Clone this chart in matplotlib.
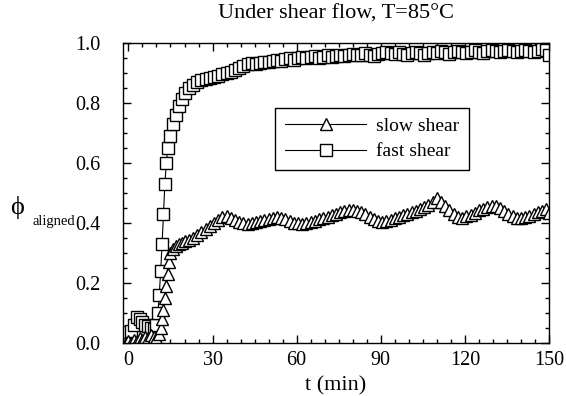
import matplotlib
matplotlib.use("Agg")
import matplotlib.pyplot as plt
from matplotlib.ticker import MultipleLocator, FormatStrFormatter

plt.rcParams['font.family'] = ['Liberation Serif', 'DejaVu Serif']

# fast shear (squares)
t_fast = [-2, -1, 0, 1, 2, 3, 4, 5, 6, 7,
          8, 9, 10, 10.5, 11, 11.5, 12, 12.5, 13, 13.5,
          14, 15, 16, 17, 18, 19, 20, 21.5, 23, 24.5,
          26, 27.5, 29,
          30.5, 32, 33.5, 35, 36.5, 38, 39.5, 41, 42.5, 44,
          45.5, 47, 48.5, 50, 51.5, 53, 54.5, 56, 57.5, 59,
          60.5, 62, 63.5, 65, 66.5, 68, 69.5, 71, 72.5, 74,
          75.5, 77, 78.5, 80, 81.5, 83, 84.5, 86, 87.5, 89,
          90.5, 92, 93.5, 95, 96.5, 98, 99.5, 101, 102.5, 104,
          105.5, 107, 108.5, 110, 111.5, 113, 114.5, 116, 117.5, 119,
          120.5, 122, 123.5, 125, 126.5, 128, 129.5, 131, 132.5, 134,
          135.5, 137, 138.5, 140, 141.5, 143, 144.5, 146, 147.5, 149,
          150]
phi_fast = [0.015, 0.025, 0.035, 0.04, 0.06, 0.085, 0.08, 0.07, 0.06, 0.055,
            0.05, 0.045, 0.06, 0.10, 0.16, 0.24, 0.33, 0.43, 0.53, 0.60,
            0.65, 0.69, 0.73, 0.76, 0.79, 0.815, 0.835, 0.85, 0.862, 0.87,
            0.876, 0.880, 0.884,
            0.888, 0.892, 0.896, 0.900, 0.905, 0.912, 0.918, 0.924, 0.929, 0.933,
            0.930, 0.934, 0.938, 0.936, 0.940, 0.944, 0.941, 0.946, 0.949, 0.945,
            0.950, 0.953, 0.949, 0.953, 0.957, 0.952, 0.955, 0.959, 0.955, 0.958,
            0.962, 0.957, 0.960, 0.964, 0.959, 0.962, 0.966, 0.961, 0.958, 0.963,
            0.968, 0.972, 0.967, 0.964, 0.969, 0.965, 0.961, 0.966, 0.970, 0.966,
            0.962, 0.967, 0.971, 0.968, 0.973, 0.969, 0.965, 0.970, 0.974, 0.970,
            0.966, 0.971, 0.976, 0.972, 0.968, 0.973, 0.977, 0.973, 0.969, 0.974,
            0.978, 0.973, 0.969, 0.974, 0.978, 0.974, 0.970, 0.975, 0.979, 0.976,
            0.962]

# slow shear (triangles)
t_slow = [-1, 0, 1, 2, 3, 4, 5, 6, 7, 8,
          9, 10, 11, 11.5, 12, 12.5, 13, 13.5, 14, 14.5,
          15, 16, 17, 18, 19, 20, 21.5, 23, 24.5, 26,
          27.5, 29,
          30.5, 32, 33.5, 35, 36.5, 38, 39.5, 41, 42.5, 44,
          45.5, 47, 48.5, 50, 51.5, 53, 54.5, 56, 57.5, 59,
          60.5, 62, 63.5, 65, 66.5, 68, 69.5, 71, 72.5, 74,
          75.5, 77, 78.5, 80, 81.5, 83, 84.5, 86, 87.5, 89,
          90.5, 92, 93.5, 95, 96.5, 98, 99.5, 101, 102.5, 104,
          105.5, 107, 108.5, 110, 111.5, 113, 114.5, 116, 117.5, 119,
          120.5, 122, 123.5, 125, 126.5, 128, 129.5, 131, 132.5, 134,
          135.5, 137, 138.5, 140, 141.5, 143, 144.5, 146, 147.5, 149,
          150]
phi_slow = [0.0, 0.005, 0.0, 0.01, 0.005, 0.015, 0.01, 0.02, 0.015, 0.025,
            0.02, 0.015, 0.03, 0.05, 0.08, 0.11, 0.15, 0.19, 0.23, 0.27,
            0.30, 0.315, 0.325, 0.33, 0.335, 0.34, 0.345, 0.35, 0.36, 0.37,
            0.38, 0.39,
            0.400, 0.410, 0.420, 0.425, 0.418, 0.410, 0.403, 0.400, 0.398, 0.399,
            0.402, 0.406, 0.410, 0.414, 0.418, 0.421, 0.418, 0.412, 0.406, 0.401,
            0.399, 0.398, 0.400, 0.404, 0.408, 0.412, 0.416, 0.421, 0.426, 0.431,
            0.436, 0.439, 0.442, 0.444, 0.441, 0.436, 0.429, 0.421, 0.414, 0.408,
            0.405, 0.406, 0.411, 0.416, 0.421, 0.426, 0.431, 0.436, 0.441, 0.446,
            0.453, 0.461, 0.471, 0.482, 0.471, 0.456, 0.442, 0.430, 0.421, 0.418,
            0.422, 0.428, 0.435, 0.442, 0.448, 0.453, 0.457, 0.456, 0.450, 0.441,
            0.431, 0.423, 0.418, 0.416, 0.419, 0.424, 0.430, 0.436, 0.441, 0.446,
            0.432]

fig = plt.figure(figsize=(5.66, 3.96), dpi=100)
ax = fig.add_axes([0.217, 0.134, 0.753, 0.757])

ax.plot(t_fast, phi_fast, color='black', lw=0.8, marker='s', ms=8.5,
        mfc='white', mec='black', mew=1.0, label='fast shear')
ax.plot(t_slow, phi_slow, color='black', lw=0.8, marker='^', ms=9,
        mfc='white', mec='black', mew=1.0, label='slow shear')

ax.set_xlim(-2, 150)
ax.set_ylim(0, 1.0)
ax.xaxis.set_major_locator(MultipleLocator(30))
ax.xaxis.set_minor_locator(MultipleLocator(5))
ax.yaxis.set_major_locator(MultipleLocator(0.2))
ax.yaxis.set_minor_locator(MultipleLocator(0.05))
ax.yaxis.set_major_formatter(FormatStrFormatter('%.1f'))
ax.tick_params(which='both', direction='in', top=True, right=True,
               labelsize=14.5, width=1.0)
ax.tick_params(which='major', length=6)
ax.tick_params(which='minor', length=3)
ax.tick_params(axis='y', pad=16)
ax.tick_params(axis='x', pad=6)
for s in ax.spines.values():
    s.set_linewidth(1.0)

ax.set_title('Under shear flow, T=85\u00b0C', fontsize=16, pad=18)
ax.set_xlabel('t (min)', fontsize=16, labelpad=4)
fig.text(0.018, 0.46, '\u03d5', fontsize=19)
fig.text(0.058, 0.432, 'aligned', fontsize=10.5)

handles, labels = ax.get_legend_handles_labels()
leg = ax.legend(handles[::-1], labels[::-1], loc='upper left',
                bbox_to_anchor=(0.357, 0.785), borderaxespad=0, fontsize=14,
                handlelength=4.2, handletextpad=0.5, frameon=True,
                fancybox=False, framealpha=1, edgecolor='black',
                borderpad=0.5, labelspacing=0.4)
leg.get_frame().set_linewidth(1.0)

fig.savefig('out.png', dpi=100)
